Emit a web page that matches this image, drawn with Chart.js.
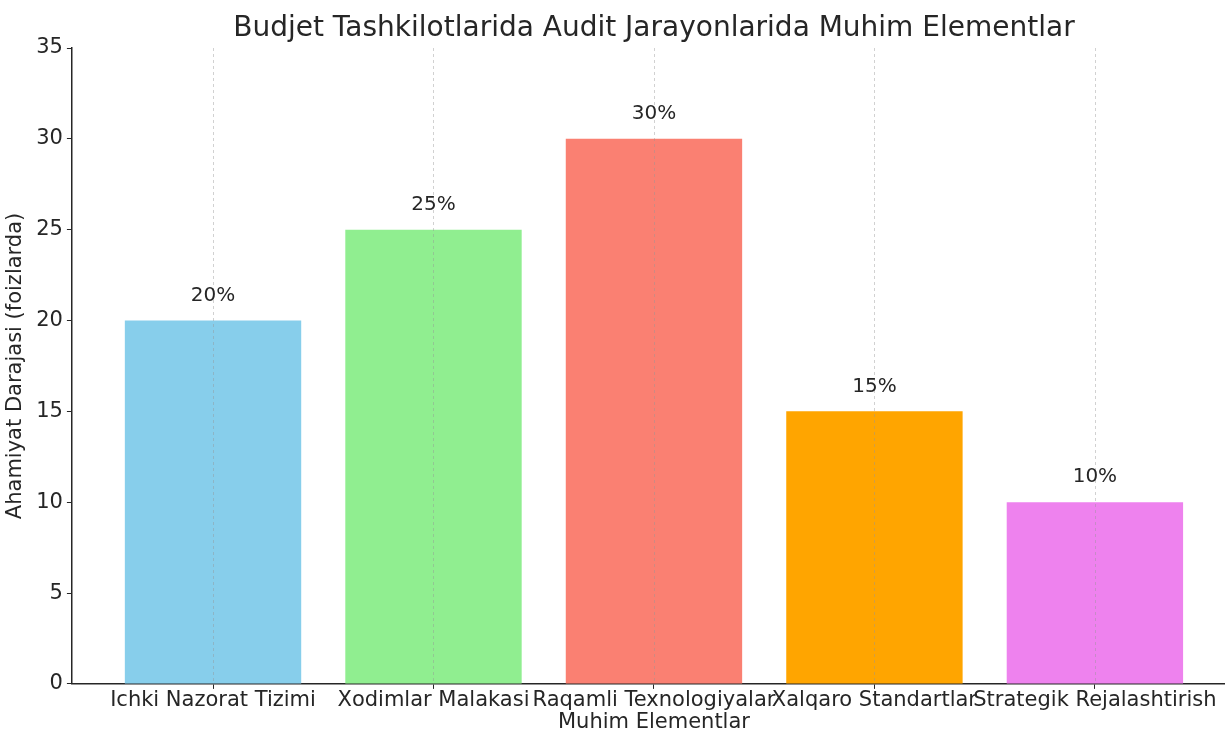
<!DOCTYPE html>
<html>
<head>
<meta charset="utf-8">
<script src="https://cdn.jsdelivr.net/npm/chart.js@4.4.1/dist/chart.umd.min.js"></script>
<style>
html, body { margin: 0; padding: 0; overflow: hidden; background: #fff; }
canvas { display: block; }
</style>
</head>
<body>
<canvas id="chart" width="1241" height="733"></canvas>
<script>
var categories = ['Ichki Nazorat Tizimi', 'Xodimlar Malakasi', 'Raqamli Texnologiyalar', 'Xalqaro Standartlar', 'Strategik Rejalashtirish'];
var values = [20, 25, 30, 15, 10];
var barColors = ['#87CEEB', '#90EE90', '#FA8072', '#FFA500', '#EE82EE'];
var yTicks = [0, 5, 10, 15, 20, 25, 30, 35];
var titleText = 'Budjet Tashkilotlarida Audit Jarayonlarida Muhim Elementlar';

var textColor = '#262626';
var fontFamily = '"DejaVu Sans", sans-serif';

var points = values.map(function (v, i) { return { x: i, y: v }; });

var overlay = {
    id: 'overlay',
    afterDatasetsDraw: function (chart) {
        var ctx = chart.ctx;
        var xs = chart.scales.x;
        var area = chart.chartArea;
        ctx.save();
        // dashed vertical grid sits on top of the bars
        ctx.strokeStyle = 'rgba(150,150,150,0.55)';
        ctx.lineWidth = 0.8;
        ctx.setLineDash([3, 3]);
        categories.forEach(function (c, i) {
            var px = Math.round(xs.getPixelForValue(i)) + 0.5;
            ctx.beginPath();
            ctx.moveTo(px, area.top);
            ctx.lineTo(px, area.bottom);
            ctx.stroke();
        });
        ctx.setLineDash([]);
        // value labels
        var meta = chart.getDatasetMeta(0);
        ctx.fillStyle = textColor;
        ctx.font = '20px ' + fontFamily;
        ctx.textAlign = 'center';
        ctx.textBaseline = 'middle';
        meta.data.forEach(function (bar, i) {
            ctx.fillText(values[i] + '%', bar.x, bar.y - 25);
        });
        // title centred over the plot area, like matplotlib does
        ctx.font = '28px ' + fontFamily;
        ctx.fillText(titleText, (area.left + area.right) / 2, 29);
        ctx.restore();
    }
};

var chart = new Chart(document.getElementById('chart'), {
    type: 'bar',
    data: {
        datasets: [{
            data: points,
            backgroundColor: barColors,
            borderWidth: 0,
            barPercentage: 0.8,
            categoryPercentage: 1.0
        }]
    },
    options: {
        animation: false,
        responsive: false,
        layout: { padding: { left: 3, right: 5, top: 48, bottom: 0 } },
        plugins: {
            legend: { display: false },
            tooltip: { enabled: false },
            title: { display: false }
        },
        scales: {
            x: {
                type: 'linear',
                offset: false,
                min: -0.64,
                max: 4.64,
                afterBuildTicks: function (scale) {
                    scale.ticks = categories.map(function (c, i) { return { value: i }; });
                },
                ticks: {
                    autoSkip: false,
                    maxRotation: 0,
                    minRotation: 0,
                    color: textColor,
                    padding: 0,
                    font: { family: fontFamily, size: 21, lineHeight: 1.1 },
                    callback: function (v) { return categories[v]; }
                },
                grid: {
                    offset: false,
                    drawOnChartArea: false,
                    drawTicks: true,
                    tickLength: 5,
                    tickColor: textColor,
                    tickWidth: 1
                },
                border: { display: true, color: textColor, width: 1.5 },
                title: {
                    display: true,
                    text: 'Muhim Elementlar',
                    color: textColor,
                    font: { family: fontFamily, size: 21, lineHeight: 1.0 },
                    padding: { top: 0, bottom: 0 }
                }
            },
            y: {
                min: 0,
                max: 35,
                afterBuildTicks: function (scale) {
                    scale.ticks = yTicks.map(function (v) { return { value: v }; });
                },
                ticks: {
                    color: textColor,
                    padding: 4,
                    font: { family: fontFamily, size: 21 }
                },
                grid: {
                    drawOnChartArea: false,
                    drawTicks: true,
                    tickLength: 5,
                    tickColor: textColor,
                    tickWidth: 1
                },
                border: { display: true, color: textColor, width: 1.5 },
                title: {
                    display: true,
                    text: 'Ahamiyat Darajasi (foizlarda)',
                    color: textColor,
                    font: { family: fontFamily, size: 21, lineHeight: 1.2 },
                    padding: { top: 0, bottom: 4 }
                }
            }
        }
    },
    plugins: [overlay]
});
</script>
</body>
</html>
